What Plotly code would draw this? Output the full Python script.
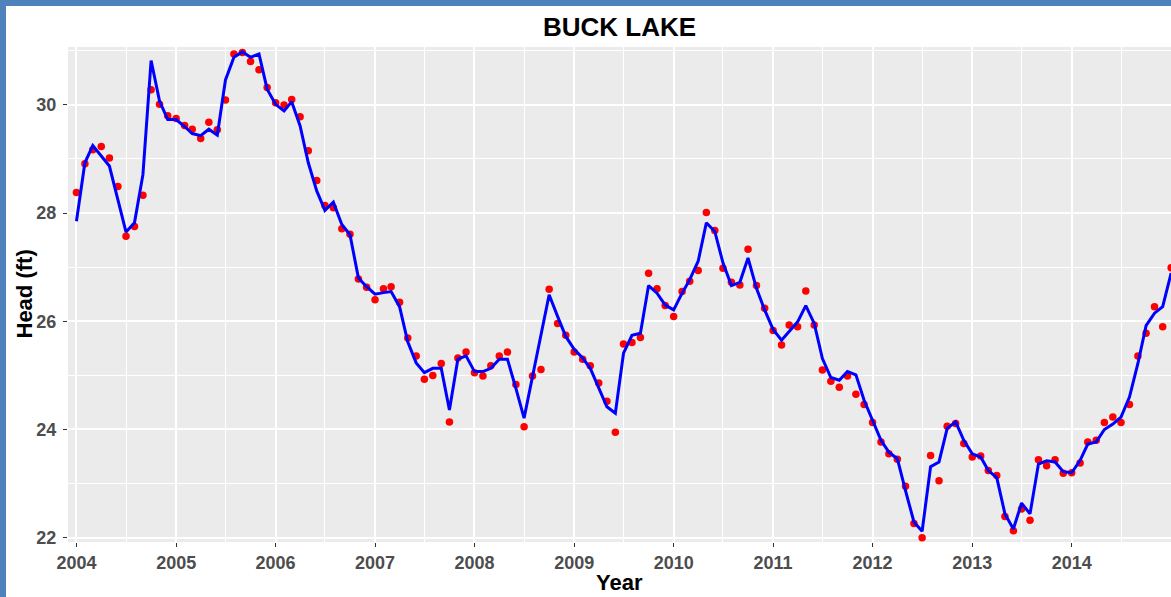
import pandas as pd
import plotly.graph_objects as go

# ---- data (monthly, Jan 2004 .. Jan 2015) ----
start_month = "2004-01-01"
n_months = 133
months = pd.date_range(start_month, periods=n_months, freq="MS")

observed_head = [
    28.38, 28.91, 29.17, 29.23, 29.02, 28.49, 27.57, 27.75, 28.33, 30.28, 30.01, 29.80,
    29.75, 29.62, 29.55, 29.38, 29.68, 29.54, 30.09, 30.94, 30.97, 30.80, 30.65, 30.32,
    30.04, 30.00, 30.10, 29.78, 29.15, 28.60, 28.14, 28.10, 27.71, 27.61, 26.78, 26.63,
    26.40, 26.60, 26.64, 26.35, 25.69, 25.36, 24.93, 25.00, 25.22, 24.14, 25.32, 25.43,
    25.05, 24.99, 25.18, 25.36, 25.43, 24.83, 24.05, 24.99, 25.11, 26.59, 25.96, 25.74,
    25.43, 25.30, 25.18, 24.86, 24.52, 23.95, 25.58, 25.61, 25.70, 26.89, 26.60, 26.29,
    26.09, 26.55, 26.74, 26.94, 28.01, 27.68, 26.98, 26.72, 26.67, 27.33, 26.66, 26.24,
    25.83, 25.56, 25.93, 25.90, 26.56, 25.93, 25.10, 24.89, 24.78, 24.99, 24.65, 24.46,
    24.13, 23.77, 23.55, 23.45, 22.95, 22.26, 22.00, 23.52, 23.05, 24.06, 24.11, 23.74,
    23.49, 23.51, 23.24, 23.15, 22.39, 22.13, 22.53, 22.32, 23.44, 23.33, 23.44, 23.19,
    23.20, 23.38, 23.77, 23.80, 24.13, 24.23, 24.13, 24.46, 25.36, 25.78, 26.27, 25.90,
    26.99,
]

simulated_head = [
    27.85, 28.93, 29.25, 29.05, 28.87, 28.25, 27.65, 27.82, 28.71, 30.82, 30.07, 29.73,
    29.73, 29.60, 29.47, 29.43, 29.55, 29.44, 30.46, 30.88, 30.98, 30.88, 30.94, 30.29,
    30.01, 29.89, 30.06, 29.61, 28.93, 28.41, 28.05, 28.20, 27.79, 27.60, 26.80, 26.64,
    26.50, 26.53, 26.55, 26.27, 25.62, 25.23, 25.05, 25.13, 25.13, 24.36, 25.30, 25.36,
    25.07, 25.07, 25.13, 25.30, 25.30, 24.76, 24.21, 24.98, 25.72, 26.49, 26.09, 25.72,
    25.48, 25.32, 25.13, 24.76, 24.42, 24.30, 25.41, 25.74, 25.78, 26.66, 26.52, 26.30,
    26.21, 26.52, 26.77, 27.11, 27.82, 27.66, 27.08, 26.66, 26.72, 27.17, 26.61, 26.21,
    25.85, 25.65, 25.81, 25.99, 26.29, 25.96, 25.31, 24.96, 24.91, 25.07, 25.01, 24.54,
    24.17, 23.80, 23.58, 23.46, 22.87, 22.29, 22.12, 23.31, 23.40, 24.02, 24.14, 23.80,
    23.55, 23.49, 23.24, 23.11, 22.44, 22.16, 22.64, 22.44, 23.36, 23.42, 23.40, 23.22,
    23.20, 23.43, 23.73, 23.77, 24.00, 24.10, 24.23, 24.60, 25.22, 25.92, 26.15, 26.27,
    26.89,
]

y_ticks = [22, 24, 26, 28, 30]
title_text = "BUCK LAKE"
x_title = "Year"
y_title = "Head (ft)"

# ---- figure ----
W, H = 1171, 597
ML, MR, MT, MB = 68, 0, 47, 55
PW, PH = W - ML - MR, H - MT - MB

FONT = "Liberation Sans, Arial, sans-serif"

fig = go.Figure()
fig.add_trace(go.Scatter(
    x=months, y=observed_head, mode="markers",
    marker=dict(color="#FF0000", size=7.5, line=dict(width=0)),
    showlegend=False,
))
fig.add_trace(go.Scatter(
    x=months, y=simulated_head, mode="lines",
    line=dict(color="#0000FF", width=3),
    showlegend=False,
))

def px_to_paper_x(px):
    return (px - ML) / PW

def px_to_paper_y(py):
    return (H - MB - py) / PH

border = "#4F81BD"
fig.update_layout(
    width=W, height=H,
    margin=dict(l=ML, r=MR, t=MT, b=MB, pad=0),
    paper_bgcolor="white",
    plot_bgcolor="#EBEBEB",
    font=dict(family=FONT),
    title=dict(
        text=title_text, x=0.5, xref="paper", xanchor="center",
        y=1 - 27 / H, yref="container", yanchor="middle",
        font=dict(family=FONT, size=26, color="black", weight="bold"),
    ),
    xaxis=dict(
        type="date",
        range=["2003-12-01", "2014-12-31 12:00"],
        tickmode="linear", tick0="2004-01-01", dtick="M12", tickformat="%Y",
        ticks="outside", ticklen=4, tickwidth=1, tickcolor="#333333",
        tickfont=dict(family=FONT, size=18, color="#4D4D4D", weight="bold"),
        showgrid=True, gridcolor="white", gridwidth=1.6,
        minor=dict(tickmode="linear", tick0="2004-01-01", dtick="M6",
                   showgrid=True, gridcolor="white", gridwidth=0.8, ticks=""),
        zeroline=False, showline=False,
    ),
    yaxis=dict(
        range=[21.92, 31.07],
        tickmode="array", tickvals=y_ticks,
        ticks="outside", ticklen=4, tickwidth=1, tickcolor="#333333",
        tickfont=dict(family=FONT, size=18, color="#4D4D4D", weight="bold"),
        ticklabelstandoff=3,
        showgrid=True, gridcolor="white", gridwidth=1.6,
        minor=dict(tickmode="linear", tick0=21, dtick=1,
                   showgrid=True, gridcolor="white", gridwidth=0.8, ticks=""),
        zeroline=False, showline=False,
    ),
    annotations=[
        dict(text=x_title, xref="paper", yref="paper",
             x=0.5, y=px_to_paper_y(582), xanchor="center", yanchor="middle",
             showarrow=False,
             font=dict(family=FONT, size=22, color="black", weight="bold")),
        dict(text=y_title, xref="paper", yref="paper",
             x=px_to_paper_x(24), y=0.5, xanchor="center", yanchor="middle",
             textangle=-90, showarrow=False,
             font=dict(family=FONT, size=22, color="black", weight="bold")),
    ],
    shapes=[
        dict(type="rect", xref="paper", yref="paper", layer="above",
             x0=px_to_paper_x(0), x1=px_to_paper_x(W + 2),
             y0=px_to_paper_y(6), y1=px_to_paper_y(-2),
             fillcolor=border, line=dict(width=0)),
        dict(type="rect", xref="paper", yref="paper", layer="above",
             x0=px_to_paper_x(-2), x1=px_to_paper_x(6),
             y0=px_to_paper_y(H + 2), y1=px_to_paper_y(0),
             fillcolor=border, line=dict(width=0)),
    ],
)

fig.write_html(
    "out.html",
    config={"displayModeBar": False},
    post_script="document.body.style.margin='0';document.body.style.padding='0';"
                "document.body.style.overflow='hidden';",
)
